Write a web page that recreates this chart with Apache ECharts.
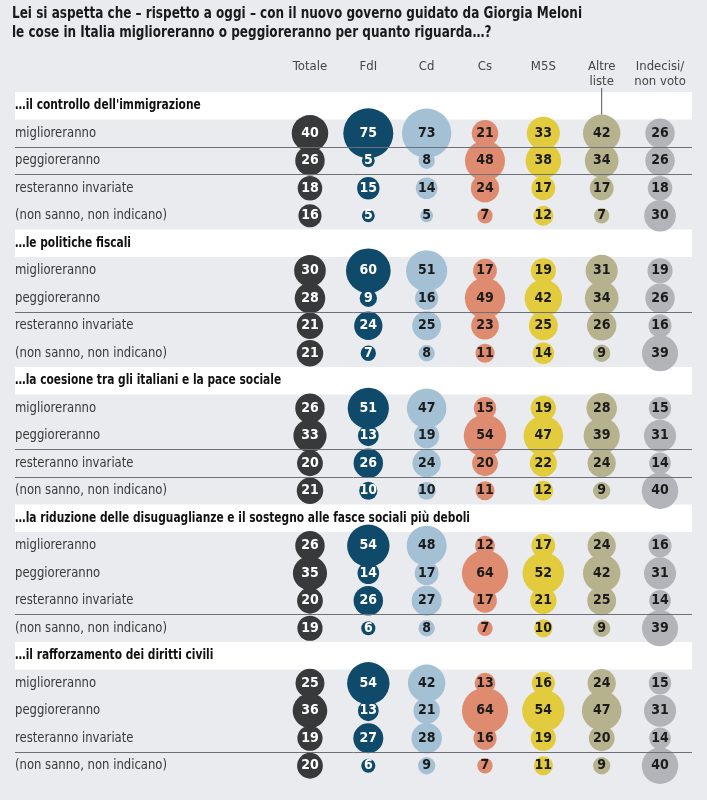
<!DOCTYPE html>
<html><head><meta charset="utf-8">
<script src="https://cdn.jsdelivr.net/npm/echarts@6/dist/echarts.min.js"></script>
<style>html,body{margin:0;padding:0;background:#e9ebee}#c{width:707px;height:800px}</style>
</head><body><div id="c"></div>
<script>
const titleLines = ["Lei si aspetta che – rispetto a oggi – con il nuovo governo guidato da Giorgia Meloni",
                    "le cose in Italia miglioreranno o peggioreranno per quanto riguarda…?"];
const columns = ["Totale", "FdI", "Cd", "Cs", "M5S", "Altre\nliste", "Indecisi/\nnon voto"];
const topics = ["…il controllo dell'immigrazione",
                "…le politiche fiscali",
                "…la coesione tra gli italiani e la pace sociale",
                "…la riduzione delle disuguaglianze e il sostegno alle fasce sociali più deboli",
                "…il rafforzamento dei diritti civili"];
const answers = ["miglioreranno", "peggioreranno", "resteranno invariate", "(non sanno, non indicano)"];
// values: [topic][answer]
const totale   = [[40,26,18,16],[30,28,21,21],[26,33,20,21],[26,35,20,19],[25,36,19,20]];
const fdi      = [[75,5,15,5],[60,9,24,7],[51,13,26,10],[54,14,26,6],[54,13,27,6]];
const cd       = [[73,8,14,5],[51,16,25,8],[47,19,24,10],[48,17,27,8],[42,21,28,9]];
const cs       = [[21,48,24,7],[17,49,23,11],[15,54,20,11],[12,64,17,7],[13,64,16,7]];
const m5s      = [[33,38,17,12],[19,42,25,14],[19,47,22,12],[17,52,21,10],[16,54,19,11]];
const altre    = [[42,34,17,7],[31,34,26,9],[28,39,24,9],[24,42,25,9],[24,47,20,9]];
const indecisi = [[26,26,18,30],[19,26,16,39],[15,31,14,40],[16,31,14,39],[15,31,14,40]];
// row separators drawn after these answer indices, per topic
const separators = [[0,1],[1],[1,2],[2],[2]];

const seriesValues = [totale, fdi, cd, cs, m5s, altre, indecisi];
const colors = ['#38393b', '#0f4a6a', '#a4c0d5', '#df8b70', '#e2cc3e', '#b7b28e', '#b2b4b9'];
const textColors = ['#ffffff', '#ffffff', '#1b1b1b', '#1b1b1b', '#1b1b1b', '#1b1b1b', '#1b1b1b'];
const FONT = "'Liberation Sans Narrow','DejaVu Sans Condensed','Roboto Condensed','Liberation Sans',sans-serif";

// row list (header + 4 answers per topic)
const rowKeys = [], rowText = [], rowIsHeader = [];
topics.forEach((t, s) => {
  rowKeys.push('h' + s); rowText.push(t); rowIsHeader.push(true);
  answers.forEach((a, i) => { rowKeys.push('r' + s + '_' + i); rowText.push(a); rowIsHeader.push(false); });
});
const nRows = rowKeys.length;

// condensing factors measured from the installed font
const cv = document.createElement('canvas').getContext('2d');
function measure(font, txt) { cv.font = font; return cv.measureText(txt).width; }
const FONT_R = '14px ' + FONT, FONT_B = 'bold 14px ' + FONT, FONT_T = 'bold 16px ' + FONT;
const condR = Math.min(1, 152 / measure(FONT_R, answers[3]));
const condB = Math.min(1, 455 / measure(FONT_B, topics[3]));
const condT = Math.min(1, 570 / measure(FONT_T, titleLines[0]));

const K = 5.77;
const TOP = 92, ROW = 27.5;
const BOTTOM = 800 - TOP - ROW * nRows;

// header bands and separator lines (in row units of grid A)
const bandAreas = [], sepLines = [];
rowIsHeader.forEach((h, i) => { if (h) bandAreas.push([{yAxis: i - 0.5}, {yAxis: i + 0.5}]); });
separators.forEach((arr, s) => arr.forEach(a => sepLines.push({yAxis: s * 5 + 1 + a + 0.5})));

const chart = echarts.init(document.getElementById('c'), null, {renderer: 'canvas'});
const series = [];
series.push({
  type: 'custom', xAxisIndex: 0, yAxisIndex: 0, silent: true, z: 2,
  data: rowText.map((t, i) => [0, i]),
  renderItem: (params, api) => {
    const i = api.value(1);
    const pt = api.coord([0, i]);
    const h = rowIsHeader[i];
    return {type: 'text', x: pt[0], y: pt[1], scaleX: h ? condB : condR,
      style: {text: rowText[i], font: h ? FONT_B : FONT_R, fill: h ? '#111111' : '#383838',
        verticalAlign: 'middle', align: 'left'}};
  },
  markArea: {silent: true, itemStyle: {color: '#ffffff', opacity: 1}, label: {show: false}, data: bandAreas},
  markLine: {silent: true, symbol: 'none', label: {show: false},
    lineStyle: {color: '#6d7074', width: 1, type: 'solid'}, data: sepLines}
});
seriesValues.forEach((vals, c) => {
  const data = [];
  vals.forEach((row, s) => row.forEach((v, a) => data.push([c, s * 5 + 1 + a, v])));
  series.push({
    type: 'scatter', xAxisIndex: 1, yAxisIndex: 1, name: columns[c],
    data, symbol: 'circle', symbolSize: d => K * Math.sqrt(d[2]),
    itemStyle: {color: colors[c], opacity: 1},
    label: {show: true, position: 'inside', formatter: p => p.data[2],
      color: textColors[c], fontFamily: FONT, fontWeight: 'bold', fontSize: 14},
    emphasis: {disabled: true}, silent: true, z: 3
  });
});

chart.setOption({
  backgroundColor: '#e9ebee',
  animation: false,
  grid: [
    {left: 15, right: 15, top: TOP, bottom: BOTTOM},
    {left: 280.8, right: 17.8, top: TOP, bottom: BOTTOM}
  ],
  xAxis: [
    {gridIndex: 0, type: 'value', min: 0, max: 1, show: false},
    {gridIndex: 1, type: 'category', data: columns, position: 'top',
      axisLine: {show: false}, axisTick: {show: false},
      axisLabel: {margin: 33, verticalAlign: 'top', color: '#444', fontFamily: FONT, fontSize: 13, lineHeight: 15, interval: 0}}
  ],
  yAxis: [
    {gridIndex: 0, type: 'value', min: -0.5, max: nRows - 0.5, inverse: true, show: false},
    {gridIndex: 1, type: 'category', data: rowKeys, inverse: true, show: false}
  ],
  series
});

// title (condensed to the reference width) and connector from "Altre liste" to its first bubble
const altreIdx = 5;
const p = chart.convertToPixel({xAxisIndex: 1, yAxisIndex: 1}, [altreIdx, 1]);
const r = K * Math.sqrt(altre[0][0]) / 2;
chart.setOption({graphic: [
  {type: 'text', x: 12, y: 14, scaleX: condT, z: 10,
    style: {text: titleLines[0], font: FONT_T, fill: '#1a1a1a', verticalAlign: 'middle'}},
  {type: 'text', x: 12, y: 33, scaleX: condT, z: 10,
    style: {text: titleLines[1], font: FONT_T, fill: '#1a1a1a', verticalAlign: 'middle'}},
  {type: 'line', shape: {x1: p[0], y1: 88, x2: p[0], y2: p[1] - r},
    style: {stroke: '#555', lineWidth: 1}, z: 10}
]});
</script></body></html>
